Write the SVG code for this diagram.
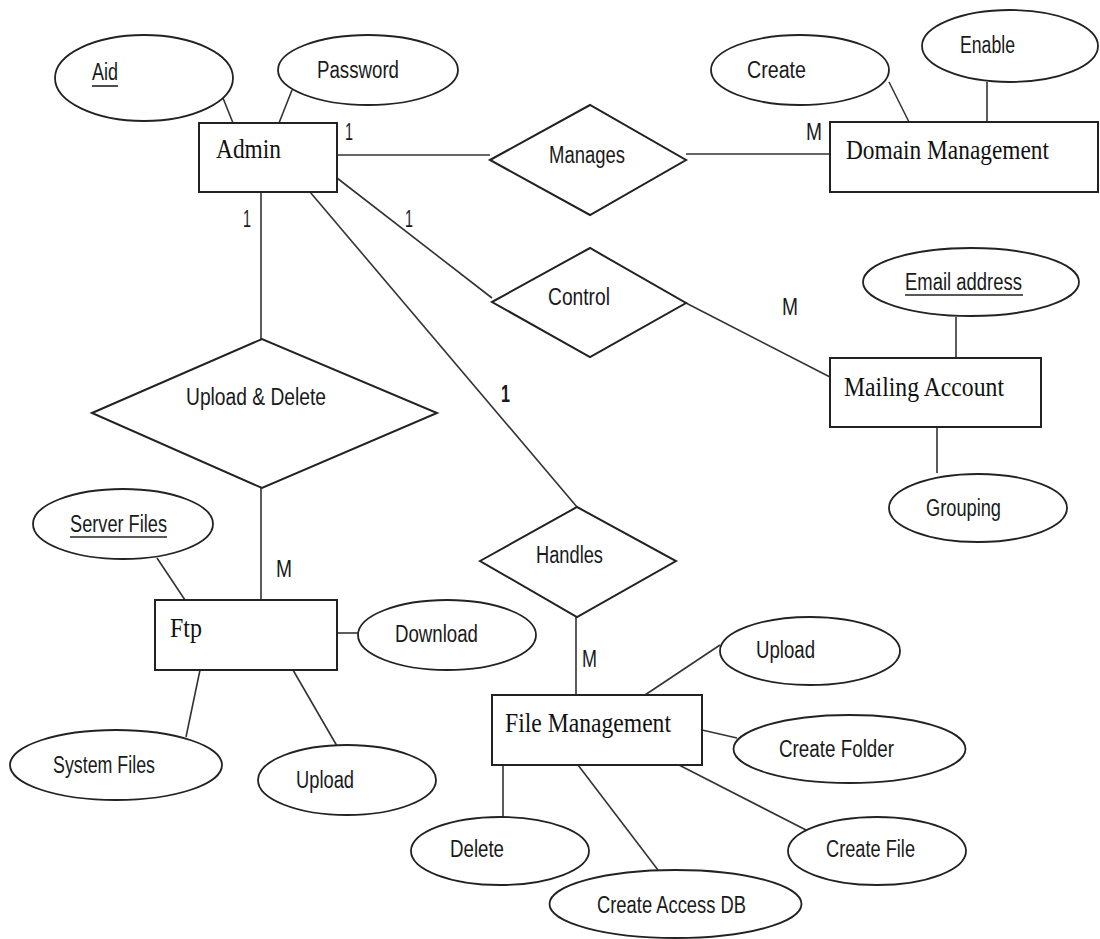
<svg xmlns="http://www.w3.org/2000/svg" width="1100" height="939" viewBox="0 0 1100 939">
  <style>
    .ent { fill: #fff; stroke: #222; stroke-width: 2; }
    .rel { fill: #fff; stroke: #222; stroke-width: 2; }
    .att { fill: #fff; stroke: #222; stroke-width: 1.8; }
    .link { fill: none; stroke: #333; stroke-width: 1.6; }
    .ul { stroke: #222; stroke-width: 1.6; }
    .s { font-family: "Liberation Sans", Arial, sans-serif; font-size: 23px; fill: #1a1a1a; }
    .r { font-family: "Liberation Serif", "Times New Roman", serif; font-size: 28px; fill: #111; }
    .b { font-weight: bold; }
  </style>
  <rect width="1100" height="939" fill="#fff"/>

  <!-- connectors -->
  <g id="connectors">
    <line class="link" x1="223" y1="98" x2="233" y2="123"/>
    <line class="link" x1="292" y1="90" x2="279" y2="123"/>
    <line class="link" x1="337" y1="155" x2="490" y2="155"/>
    <line class="link" x1="686" y1="154" x2="830" y2="154"/>
    <line class="link" x1="889" y1="82" x2="909" y2="122"/>
    <line class="link" x1="987" y1="82" x2="987" y2="122"/>
    <line class="link" x1="337" y1="178" x2="492" y2="298"/>
    <line class="link" x1="686" y1="303" x2="830" y2="377"/>
    <line class="link" x1="956" y1="317" x2="956" y2="358"/>
    <line class="link" x1="937" y1="427" x2="937" y2="473"/>
    <line class="link" x1="261" y1="192" x2="261" y2="339"/>
    <line class="link" x1="261" y1="488" x2="261" y2="600"/>
    <line class="link" x1="310" y1="192" x2="577" y2="507"/>
    <line class="link" x1="576" y1="617" x2="576" y2="695"/>
    <line class="link" x1="157" y1="558" x2="185" y2="600"/>
    <line class="link" x1="337" y1="633" x2="358" y2="633"/>
    <line class="link" x1="200" y1="670" x2="186" y2="737"/>
    <line class="link" x1="293" y1="670" x2="337" y2="746"/>
    <line class="link" x1="645" y1="695" x2="720" y2="645"/>
    <line class="link" x1="702" y1="730" x2="737" y2="738"/>
    <line class="link" x1="679" y1="765" x2="806" y2="830"/>
    <line class="link" x1="503" y1="765" x2="503" y2="817"/>
    <line class="link" x1="578" y1="765" x2="658" y2="870"/>
    <!-- cardinality labels -->
    <text class="s" x="345" y="140" textLength="8" lengthAdjust="spacingAndGlyphs">1</text>
    <text class="s" x="243" y="227" textLength="8" lengthAdjust="spacingAndGlyphs">1</text>
    <text class="s" x="405" y="227" textLength="8" lengthAdjust="spacingAndGlyphs">1</text>
    <text class="s b" x="501" y="402" textLength="9" lengthAdjust="spacingAndGlyphs">1</text>
    <text class="s" x="806" y="140" textLength="16" lengthAdjust="spacingAndGlyphs">M</text>
    <text class="s" x="782" y="315" textLength="16" lengthAdjust="spacingAndGlyphs">M</text>
    <text class="s" x="276" y="577" textLength="16" lengthAdjust="spacingAndGlyphs">M</text>
    <text class="s" x="582" y="667" textLength="15" lengthAdjust="spacingAndGlyphs">M</text>
  </g>

  <!-- entities -->
  <g id="admin">
    <rect class="ent" x="199" y="123" width="138" height="69"/>
    <text class="r" x="216" y="158" textLength="65" lengthAdjust="spacingAndGlyphs">Admin</text>
  </g>
  <g id="domain-management">
    <rect class="ent" x="830" y="122" width="268" height="70"/>
    <text class="r" x="846" y="159" textLength="203" lengthAdjust="spacingAndGlyphs">Domain Management</text>
  </g>
  <g id="mailing-account">
    <rect class="ent" x="830" y="358" width="211" height="69"/>
    <text class="r" x="844" y="396" textLength="160" lengthAdjust="spacingAndGlyphs">Mailing Account</text>
  </g>
  <g id="ftp">
    <rect class="ent" x="155" y="600" width="182" height="70"/>
    <text class="r" x="170" y="637" textLength="32" lengthAdjust="spacingAndGlyphs">Ftp</text>
  </g>
  <g id="file-management">
    <rect class="ent" x="492" y="695" width="210" height="70"/>
    <text class="r" x="505" y="732" textLength="166" lengthAdjust="spacingAndGlyphs">File Management</text>
  </g>

  <!-- relationships -->
  <g id="manages">
    <polygon class="rel" points="490,160 590,105 686,160 590,215"/>
    <text class="s" x="549" y="163" textLength="76" lengthAdjust="spacingAndGlyphs">Manages</text>
  </g>
  <g id="control">
    <polygon class="rel" points="492,302 590,248 686,303 590,357"/>
    <text class="s" x="548" y="305" textLength="62" lengthAdjust="spacingAndGlyphs">Control</text>
  </g>
  <g id="upload-delete">
    <polygon class="rel" points="92,413 262,339 437,413 262,488"/>
    <text class="s" x="186" y="405" textLength="140" lengthAdjust="spacingAndGlyphs">Upload &amp; Delete</text>
  </g>
  <g id="handles">
    <polygon class="rel" points="480,561 577,507 676,561 577,617"/>
    <text class="s" x="536" y="563" textLength="67" lengthAdjust="spacingAndGlyphs">Handles</text>
  </g>

  <!-- attributes -->
  <g id="attr-aid">
    <ellipse class="att" cx="144" cy="78" rx="89" ry="43"/>
    <text class="s" x="92" y="80" textLength="26" lengthAdjust="spacingAndGlyphs">Aid</text>
    <line class="ul" x1="92" y1="86" x2="118" y2="86"/>
  </g>
  <g id="attr-password">
    <ellipse class="att" cx="368" cy="70" rx="90" ry="35"/>
    <text class="s" x="317" y="78" textLength="82" lengthAdjust="spacingAndGlyphs">Password</text>
  </g>
  <g id="attr-create">
    <ellipse class="att" cx="800" cy="70" rx="89" ry="35"/>
    <text class="s" x="747" y="78" textLength="59" lengthAdjust="spacingAndGlyphs">Create</text>
  </g>
  <g id="attr-enable">
    <ellipse class="att" cx="1010" cy="46" rx="88" ry="36"/>
    <text class="s" x="960" y="53" textLength="55" lengthAdjust="spacingAndGlyphs">Enable</text>
  </g>
  <g id="attr-email">
    <ellipse class="att" cx="971" cy="282" rx="108" ry="34"/>
    <text class="s" x="905" y="290" textLength="117" lengthAdjust="spacingAndGlyphs">Email address</text>
    <line class="ul" x1="905" y1="295" x2="1023" y2="295"/>
  </g>
  <g id="attr-grouping">
    <ellipse class="att" cx="978" cy="508" rx="89" ry="34"/>
    <text class="s" x="926" y="516" textLength="75" lengthAdjust="spacingAndGlyphs">Grouping</text>
  </g>
  <g id="attr-server-files">
    <ellipse class="att" cx="123" cy="524" rx="90" ry="35"/>
    <text class="s" x="70" y="532" textLength="97" lengthAdjust="spacingAndGlyphs">Server Files</text>
    <line class="ul" x1="70" y1="537" x2="167" y2="537"/>
  </g>
  <g id="attr-download">
    <ellipse class="att" cx="447" cy="635" rx="89" ry="35"/>
    <text class="s" x="395" y="642" textLength="83" lengthAdjust="spacingAndGlyphs">Download</text>
  </g>
  <g id="attr-system-files">
    <ellipse class="att" cx="116" cy="765" rx="106" ry="35"/>
    <text class="s" x="53" y="773" textLength="102" lengthAdjust="spacingAndGlyphs">System Files</text>
  </g>
  <g id="attr-ftp-upload">
    <ellipse class="att" cx="347" cy="780" rx="89" ry="35"/>
    <text class="s" x="296" y="788" textLength="58" lengthAdjust="spacingAndGlyphs">Upload</text>
  </g>
  <g id="attr-fm-upload">
    <ellipse class="att" cx="810" cy="651" rx="90" ry="34"/>
    <text class="s" x="756" y="658" textLength="59" lengthAdjust="spacingAndGlyphs">Upload</text>
  </g>
  <g id="attr-create-folder">
    <ellipse class="att" cx="849.5" cy="749" rx="116" ry="34"/>
    <text class="s" x="779" y="757" textLength="115" lengthAdjust="spacingAndGlyphs">Create Folder</text>
  </g>
  <g id="attr-create-file">
    <ellipse class="att" cx="877" cy="851" rx="89" ry="34"/>
    <text class="s" x="826" y="857" textLength="89" lengthAdjust="spacingAndGlyphs">Create File</text>
  </g>
  <g id="attr-delete">
    <ellipse class="att" cx="500" cy="851" rx="89" ry="34"/>
    <text class="s" x="450" y="857" textLength="54" lengthAdjust="spacingAndGlyphs">Delete</text>
  </g>
  <g id="attr-create-access-db">
    <ellipse class="att" cx="675.5" cy="904" rx="126" ry="34"/>
    <text class="s" x="597" y="913" textLength="149" lengthAdjust="spacingAndGlyphs">Create Access DB</text>
  </g>
</svg>
